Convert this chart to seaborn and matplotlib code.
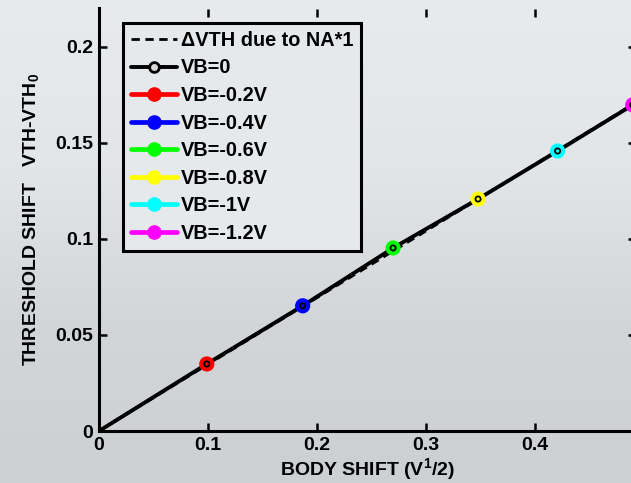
import numpy as np
import pandas as pd
import matplotlib.pyplot as plt
import seaborn as sns
from matplotlib.lines import Line2D

# === values ===
body_shift_na = [0.0, 0.1, 0.2, 0.3, 0.4, 0.5]
vth_shift_na = [0.0, 0.0347, 0.0694, 0.1041, 0.1388, 0.1735]

body_shift_vb = [0.0, 0.099, 0.187, 0.270, 0.348, 0.421, 0.490]
vth_shift_vb = [0.0, 0.0349, 0.0652, 0.0953, 0.1208, 0.1458, 0.1698]
vb_labels = ["VB=0", "VB=-0.2V", "VB=-0.4V", "VB=-0.6V", "VB=-0.8V", "VB=-1V", "VB=-1.2V"]
vb_colors = ["black", "red", "blue", "lime", "yellow", "cyan", "magenta"]

x_ticks = [0, 0.1, 0.2, 0.3, 0.4]
x_tick_labels = ["0", "0.1", "0.2", "0.3", "0.4"]
y_ticks = [0, 0.05, 0.1, 0.15, 0.2]
y_tick_labels = ["0", "0.05", "0.1", "0.15", "0.2"]

df_na = pd.DataFrame({"body": body_shift_na, "vth": vth_shift_na})
df_vb = pd.DataFrame({"body": body_shift_vb, "vth": vth_shift_vb, "label": vb_labels})

# === style ===
sns.set_style("ticks")
plt.rcParams["font.family"] = ["Liberation Sans", "DejaVu Sans"]
plt.rcParams["font.weight"] = "bold"
plt.rcParams["text.color"] = "black"
plt.rcParams["axes.labelcolor"] = "black"
plt.rcParams["xtick.color"] = "black"
plt.rcParams["ytick.color"] = "black"
plt.rcParams["axes.edgecolor"] = "black"
plt.rcParams["mathtext.fontset"] = "custom"
plt.rcParams["mathtext.bf"] = "Liberation Sans:bold"
plt.rcParams["mathtext.rm"] = "Liberation Sans:bold"

fig = plt.figure(figsize=(6.31, 4.83), dpi=100)
fig.patch.set_facecolor("#dfe2e5")

# light grey photo-like backdrop (decoration only)
bg = fig.add_axes([0, 0, 1, 1], zorder=-10)
grad = np.linspace(0, 1, 200).reshape(-1, 1)
bg.imshow(grad, aspect="auto", cmap=sns.blend_palette(["#e8ebee", "#e3e6e9", "#d3d6d9", "#cdd0d3"], as_cmap=True),
          extent=[0, 1, 1, 0])
bg.axis("off")

ax = fig.add_axes([99 / 631, 52 / 483, 537 / 631, 422.5 / 483])
ax.set_facecolor("none")

# dashed reference line
sns.lineplot(data=df_na, x="body", y="vth", ax=ax, color="black",
             linestyle=(0, (3, 2)), linewidth=2.0, zorder=2)
# VB=0 line
sns.lineplot(data=df_vb, x="body", y="vth", ax=ax, color="black",
             linewidth=2.8, zorder=3)
# coloured operating points
sns.scatterplot(data=df_vb.iloc[1:], x="body", y="vth", hue="label",
                palette=vb_colors[1:], s=120, linewidth=0, legend=False,
                ax=ax, zorder=4)
# small black markers of the VB=0 series
sns.scatterplot(data=df_vb, x="body", y="vth", marker="o", s=14,
                facecolors="none", edgecolor="black", linewidth=1.3,
                ax=ax, zorder=5)

ax.set_xlim(0, 0.493)
ax.set_ylim(0, 0.22)
ax.set_xticks(x_ticks, x_tick_labels)
ax.set_yticks(y_ticks, y_tick_labels)
ax.tick_params(direction="in", top=True, right=True, length=6, width=1.8,
               labelsize=14, pad=4)
for side in ["left", "bottom"]:
    ax.spines[side].set_linewidth(2.2)
ax.spines["top"].set_visible(False)
ax.spines["right"].set_visible(False)

ax.set_xlabel("BODY SHIFT (V$^\\mathbf{1}$/2)", fontsize=14, fontweight="bold", labelpad=2)
ax.set_ylabel("THRESHOLD SHIFT   VTH-VTH$_\\mathbf{0}$", fontsize=14, fontweight="bold", labelpad=10)

# legend
handles = [Line2D([], [], color="black", linestyle=(0, (3, 2)), linewidth=2.0)]
for lab, c in zip(vb_labels, vb_colors):
    if c == "black":
        handles.append(Line2D([], [], color="black", linewidth=2.8, marker="o",
                              markersize=7, markerfacecolor="#d8d8d8",
                              markeredgecolor="black", markeredgewidth=2))
    else:
        handles.append(Line2D([], [], color=c, linewidth=3.4, marker="o",
                              markersize=9.5, markerfacecolor=c, markeredgecolor=c))
leg = ax.legend(handles, ["\u0394VTH due to NA*1"] + vb_labels,
                loc="upper left", bbox_to_anchor=(24 / 537, (431 - 23) / 422.5),
                borderaxespad=0, frameon=True, fancybox=False,
                prop={"size": 14.3, "weight": "bold"},
                handlelength=2.3, handletextpad=0.2, labelspacing=0.43,
                borderpad=0.4)
leg.get_frame().set_edgecolor("black")
leg.get_frame().set_linewidth(2.2)
leg.get_frame().set_facecolor("#e6e9ec")
leg.get_frame().set_alpha(1)

fig.savefig("out.png", dpi=100, facecolor=fig.get_facecolor())
